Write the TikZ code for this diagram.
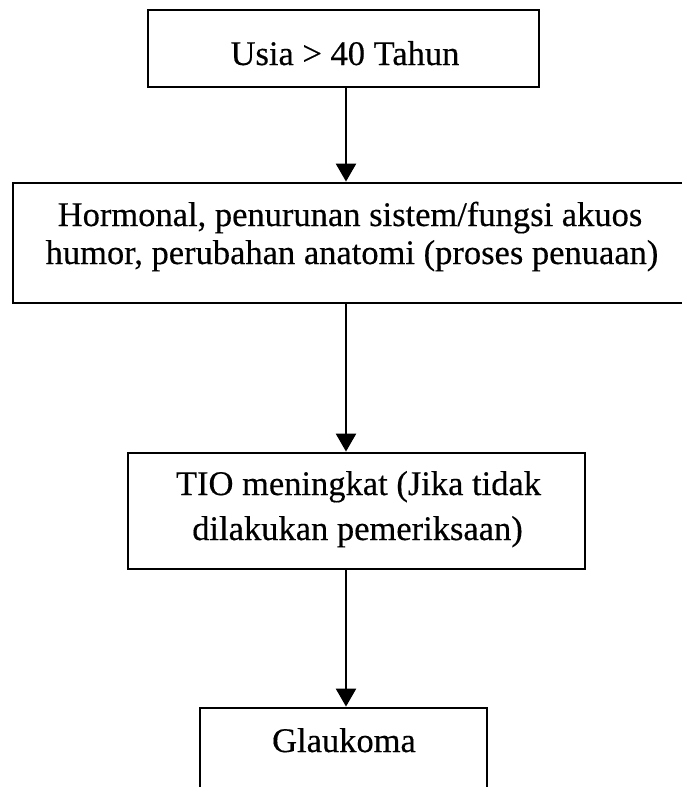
\documentclass[tikz,border=0pt]{standalone}
\usepackage{fontspec}
\setmainfont{Liberation Serif}[FakeBold=0.35]
\usetikzlibrary{arrows.meta}
\begin{document}
\begin{tikzpicture}[x=1pt,y=-1pt,
  box/.style={draw=black,line width=2.8pt,rectangle,inner sep=0pt},
  txt/.style={anchor=base,inner sep=0pt,font=\fontsize{34.5}{40}\selectfont},
  arr/.style={line width=2.4pt,-{Triangle[width=20pt,length=18pt]}}]
\useasboundingbox (0,0) rectangle (682,787);
\clip (0,0) rectangle (682,787);
\fill[white] (0,0) rectangle (682,787);
% boxes
\node[box,minimum width=391pt,minimum height=77pt] (b1) at (343.5,48.5) {};
\node[box,minimum width=673pt,minimum height=120pt] (b2) at (349.5,243) {};
\node[box,minimum width=457pt,minimum height=116pt] (b3) at (356.5,511) {};
\node[box,minimum width=287pt,minimum height=92pt] (b4) at (343.5,754) {};
% texts
\node[txt] (t1) at (345,65) {Usia > 40 Tahun};
\node[txt] (t2a) at (350,226) {Hormonal, penurunan sistem/fungsi akuos};
\node[txt] (t2b) at (352,264) {humor, perubahan anatomi (proses penuaan)};
\node[txt] (t3a) at (358.5,495) {TIO meningkat (Jika tidak};
\node[txt] (t3b) at (357.5,540) {dilakukan pemeriksaan)};
\node[txt] (t4) at (344,752) {Glaukoma};
% connectors
\coordinate (ax) at (346,0);
\draw[arr] (b1.south -| ax) -- (b2.north -| ax);
\draw[arr] (b2.south -| ax) -- (b3.north -| ax);
\draw[arr] (b3.south -| ax) -- (b4.north -| ax);
\end{tikzpicture}
\end{document}
